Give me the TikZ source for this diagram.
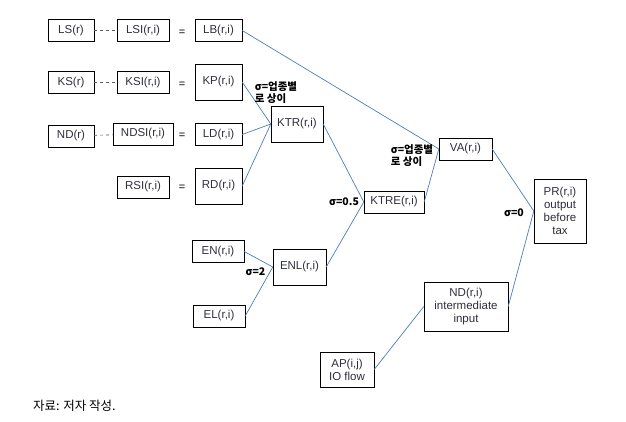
\documentclass[tikz,border=0pt]{standalone}
\usepackage{fontspec}
\setmainfont{Liberation Sans}
\newfontfamily\krfont{Noto Sans CJK KR}
\usepackage{xcolor}
\usepackage{tikz}
\usetikzlibrary{positioning}
\definecolor{nestblue}{HTML}{4A7EBB}
\definecolor{boxtext}{HTML}{2F2F3A}
\tikzset{
    % Variable box
    varbox/.style={
        rectangle,
        draw=black,
        fill=white,
        text=boxtext,
        font=\fontsize{11.5}{13}\selectfont,
        minimum width=52pt,
        minimum height=22pt,
        align=center,
        inner sep=2pt
    },
    % Taller variable box
    tallbox/.style={
        varbox,
        minimum height=36pt
    },
    % Nesting line
    nestline/.style={
        draw=nestblue,
        line width=0.7pt
    },
    % Share link (dashed)
    sharelink/.style={
        draw=black!65,
        dashed,
        line width=0.6pt
    },
    % Elasticity label
    sigmalabel/.style={
        font=\krfont\bfseries\fontsize{10.5}{12}\selectfont,
        align=left,
        inner sep=0pt
    },
    % Equal sign
    eqsign/.style={
        font=\fontsize{11}{12}\selectfont,
        inner sep=0pt
    }
}

\begin{document}
\begin{tikzpicture}[x=1pt, y=-1pt]
    \useasboundingbox (0,0) rectangle (626,422);

    % Regional totals
    \node[varbox, minimum width=46pt] (LS) at (71, 30.5) {LS(r)};
    \node[varbox, minimum width=46pt] (KS) at (71, 82.5) {KS(r)};
    \node[varbox, minimum width=46pt] (NDr) at (71, 136) {ND(r)};

    % Industry shares
    \node[varbox] (LSI) at (143, 30.5) {LSI(r,i)};
    \node[varbox] (KSI) at (143, 82.5) {KSI(r,i)};
    \node[varbox, minimum width=60pt] (NDSI) at (143, 134) {NDSI(r,i)};
    \node[varbox] (RSI) at (143, 187) {RSI(r,i)};

    % Dashed share links
    \draw[sharelink] (LS) -- (LSI);
    \draw[sharelink] (KS) -- (KSI);
    \draw[sharelink] (NDr) -- (NDSI);

    % Equal signs
    \node[eqsign] (eqLB) at (182, 33) {=};
    \node[eqsign] (eqKP) at (182, 85) {=};
    \node[eqsign] (eqLD) at (182, 136) {=};
    \node[eqsign] (eqRD) at (182, 188) {=};

    % Factor inputs
    \node[varbox, minimum width=47pt] (LB) at (218.5, 30.5) {LB(r,i)};
    \node[tallbox, minimum width=47pt] (KP) at (218.5, 82) {KP(r,i)};
    \node[varbox, minimum width=47pt] (LD) at (218.5, 134.5) {LD(r,i)};
    \node[tallbox, minimum width=47pt] (RD) at (218.5, 186) {RD(r,i)};

    % Energy inputs
    \node[varbox] (EN) at (218, 251.5) {EN(r,i)};
    \node[varbox] (EL) at (219, 316) {EL(r,i)};

    % Nests
    \node[tallbox] (KTR) at (297, 124) {KTR(r,i)};
    \node[tallbox, minimum width=53pt] (ENL) at (299.5, 267) {ENL(r,i)};
    \node[varbox, minimum width=60pt] (KTRE) at (394, 202) {KTRE(r,i)};
    \node[varbox, minimum width=53pt] (VA) at (465.5, 149) {VA(r,i)};
    \node[varbox, minimum height=64pt] (PR) at (560, 211) {PR(r,i)\\output\\before\\tax};
    \node[varbox, minimum width=84pt, minimum height=49pt] (NDri) at (466, 306.5) {ND(r,i)\\intermediate\\input};
    \node[varbox, minimum width=54pt, minimum height=35pt] (AP) at (347, 369.5) {AP(i,j)\\IO flow};

    % Nesting lines
    \draw[nestline] (KP.east) -- (KTR.west);
    \draw[nestline] (LD.east) -- (KTR.west);
    \draw[nestline] (RD.east) -- (KTR.west);
    \draw[nestline] (EN.east) -- (ENL.west);
    \draw[nestline] (EL.east) -- (ENL.west);
    \draw[nestline] (KTR.east) -- (KTRE.west);
    \draw[nestline] (ENL.east) -- (KTRE.west);
    \draw[nestline] (LB.east) -- (VA.west);
    \draw[nestline] (KTRE.east) -- (VA.west);
    \draw[nestline] (VA.east) -- (PR.west);
    \draw[nestline] (NDri.east) -- (PR.west);
    \draw[nestline] (AP.east) -- (NDri.west);

    % Elasticities
    \node[sigmalabel] (sigKTR) at (276, 93) {σ=업종별\\로 상이};
    \node[sigmalabel] (sigVA) at (412, 156) {σ=업종별\\로 상이};
    \node[sigmalabel] (sigKTRE) at (344, 202) {σ=0.5};
    \node[sigmalabel] (sigENL) at (255.5, 272) {σ=2};
    \node[sigmalabel] (sigPR) at (514, 213) {σ=0};

    % Source note
    \node[anchor=west, font=\krfont\fontsize{12.5}{14}\selectfont, inner sep=0pt] (source) at (33, 406) {자료: 저자 작성.};

\end{tikzpicture}
\end{document}
